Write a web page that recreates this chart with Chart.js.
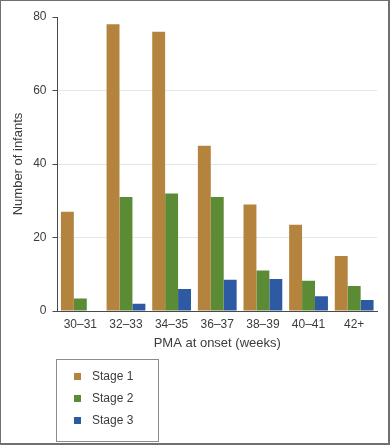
<!DOCTYPE html>
<html>
<head>
<meta charset="utf-8">
<script src="https://cdn.jsdelivr.net/npm/chart.js@4"></script>
<style>
  html, body { margin: 0; padding: 0; background: #fff; }
  #wrap {
    position: relative; width: 390px; height: 445px; box-sizing: border-box;
    border: 1px solid #707070; border-right-width: 2px; border-bottom-width: 2px;
  }
  #wrap canvas { position: absolute; left: 0; top: 0; }
  #legend {
    position: absolute; left: 55px; top: 358px; width: 103px; height: 83px;
    box-sizing: border-box; border: 1px solid #8c8c8c; padding-top: 5px;
    font: 12px "Liberation Sans", Arial, sans-serif; color: #3c3c3c;
  }
  #legend .item { height: 22px; line-height: 22px; position: relative; }
  #legend .sw { position: absolute; left: 17px; top: 8px; width: 7px; height: 7px; }
  #legend .lab { position: absolute; left: 35px; top: 0; }
</style>
</head>
<body>
<div id="wrap">
  <canvas id="bar" width="387" height="442"></canvas>
  <div id="legend"></div>
</div>
<script>
let weeks = ["30–31", "32–33", "34–35", "36–37", "38–39", "40–41", "42+"];
let stage1 = [27, 78, 76, 45, 29, 23.5, 15];
let stage2 = [3.4, 31, 32, 31, 11, 8.2, 6.8];
let stage3 = [0, 2, 6, 8.5, 8.7, 4, 3];
let stages = ["Stage 1", "Stage 2", "Stage 3"];
let colors = ["#b4843f", "#5b8c35", "#2e5aa3"];
let yTicks = [0, 20, 40, 60, 80];

let font = "'Liberation Sans', Arial, sans-serif";
let textCol = "#3c3c3c";

let ctx = document.getElementById("bar").getContext("2d");
let bar = new Chart(ctx, {
  type: "bar",
  data: {
    labels: weeks,
    datasets: [stage1, stage2, stage3].map((d, i) => ({
      label: stages[i],
      data: d,
      backgroundColor: colors[i],
      borderWidth: 0,
      barPercentage: 1,
      categoryPercentage: 0.85,
    })),
  },
  options: {
    responsive: false,
    animation: false,
    layout: { padding: { left: 4, top: 16, right: 11, bottom: 92 } },
    plugins: { legend: { display: false }, tooltip: { enabled: false } },
    scales: {
      x: {
        grid: { drawOnChartArea: false, drawTicks: false },
        border: { color: "#4a4a4a", width: 1 },
        ticks: { color: textCol, font: { family: font, size: 12 }, padding: 6, maxRotation: 0 },
        title: {
          display: true, text: "PMA at onset (weeks)", color: textCol,
          font: { family: font, size: 13 }, padding: { top: 0, bottom: 0 },
        },
        afterFit: (s) => { s.height = 40; },
      },
      y: {
        min: 0,
        max: 80,
        afterBuildTicks: (s) => { s.ticks = yTicks.map((v) => ({ value: v })); },
        grid: {
          color: (c) => (c.tick && c.tick.value > 0 && c.tick.value < 80 ? "#dfe9ec" : "rgba(0,0,0,0)"),
          tickColor: "#4a4a4a",
          tickLength: 5,
        },
        border: { color: "#4a4a4a", width: 1 },
        ticks: { color: textCol, font: { family: font, size: 12 }, padding: 6 },
        title: {
          display: true, text: "Number of infants", color: textCol,
          font: { family: font, size: 13 }, padding: { top: 6, bottom: 0 },
        },
        afterFit: (s) => { s.width = 52.5; },
      },
    },
  },
});

let legend = document.getElementById("legend");
bar.data.datasets.forEach((ds) => {
  let row = document.createElement("div");
  row.className = "item";
  row.innerHTML = '<span class="sw" style="background:' + ds.backgroundColor + '"></span><span class="lab">' + ds.label + "</span>";
  legend.appendChild(row);
});
</script>
</body>
</html>
